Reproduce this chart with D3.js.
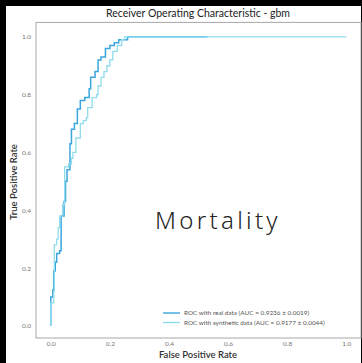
<!DOCTYPE html>
<html><head><meta charset="utf-8">
<script src="https://cdn.jsdelivr.net/npm/d3@7"></script>
<style>html,body{margin:0;padding:0;background:#000;}svg{display:block;}</style>
</head><body>
<svg id="c" width="362" height="363"></svg>
<script>
const title = "Receiver Operating Characteristic - gbm";
const xLabel = "False Positive Rate";
const yLabel = "True Positive Rate";
const overlayText = "Mortality";
const seriesNames = ["ROC with real data (AUC = 0.9236 ± 0.0019)", "ROC with synthetic data (AUC = 0.9177 ± 0.0044)"];
const ticks = [0, 0.2, 0.4, 0.6, 0.8, 1.0];
const tickLabels = ["0.0", "0.2", "0.4", "0.6", "0.8", "1.0"];
const realFpr = [0,0,0.007,0.01,0.015,0.02,0.03,0.035,0.045,0.05,0.055,0.065,0.07,0.08,0.09,0.1,0.115,0.13,0.135,0.15,0.16,0.17,0.185,0.2,0.215,0.23,0.26,0.53];
const realTpr = [0,0.1,0.125,0.19,0.22,0.25,0.26,0.38,0.43,0.5,0.54,0.63,0.68,0.7,0.75,0.78,0.79,0.82,0.86,0.88,0.92,0.93,0.96,0.97,0.98,0.99,1.0,1.0];
const synFpr = [0,0,0.01,0.012,0.02,0.025,0.03,0.04,0.047,0.06,0.07,0.075,0.085,0.1,0.11,0.12,0.125,0.14,0.155,0.16,0.17,0.18,0.19,0.2,0.21,0.225,0.24,0.25,1.0];
const synTpr = [0,0.08,0.12,0.28,0.3,0.34,0.38,0.42,0.55,0.56,0.58,0.6,0.65,0.7,0.71,0.72,0.755,0.79,0.8,0.83,0.86,0.88,0.9,0.92,0.95,0.97,0.99,1.0,1.0];
const colors = ["#3aa6dd", "#8fdcec"];

const svg = d3.select("#c");
svg.append("rect").attr("x",6).attr("y",6).attr("width",355).attr("height",357).attr("fill","#fff");

const x = d3.scaleLinear().domain([-0.05,1.05]).range([36,361]);
const y = d3.scaleLinear().domain([-0.042,1.05]).range([338,22.4]);

svg.append("rect").attr("x",x(-0.05)).attr("y",y(1.05)).attr("width",x(1.05)-x(-0.05)).attr("height",y(-0.042)-y(1.05))
  .attr("fill","none").attr("stroke","#a8a8a8").attr("stroke-width",1);

const fontF = "Lato, 'Open Sans', sans-serif";
const xAxis = d3.axisBottom(x).tickValues(ticks).tickFormat((d,i)=>tickLabels[i]).tickSize(0).tickPadding(3);
const gx = svg.append("g").attr("transform",`translate(0,${y(-0.042)})`).call(xAxis);
const yAxis = d3.axisLeft(y).tickValues(ticks).tickFormat((d,i)=>tickLabels[i]).tickSize(0).tickPadding(5);
const gy = svg.append("g").attr("transform",`translate(${x(-0.05)},0)`).call(yAxis);
[gx,gy].forEach(g=>{
  g.select(".domain").remove();
  g.selectAll("text").attr("font-family",fontF).attr("font-size",6.5).attr("fill","#777");
});

const line = d3.line().x(d=>x(d[0])).y(d=>y(d[1])).curve(d3.curveStepAfter);
const realPts = realFpr.map((f,i)=>[f,realTpr[i]]);
const synPts = synFpr.map((f,i)=>[f,synTpr[i]]);
svg.append("path").datum(realPts).attr("d",line).attr("fill","none").attr("stroke",colors[0]).attr("stroke-width",1.5);
svg.append("path").datum(synPts).attr("d",line).attr("fill","none").attr("stroke",colors[1]).attr("stroke-width",1.3);

seriesNames.forEach((n,i)=>{
  const ly = 313 + i*9.5;
  svg.append("line").attr("x1",163).attr("x2",180).attr("y1",ly).attr("y2",ly).attr("stroke",colors[i]).attr("stroke-width",1.4);
  svg.append("text").attr("x",184).attr("y",ly).attr("dy","0.35em").attr("font-family",fontF).attr("font-size",6.4).attr("fill","#555").text(n);
});

svg.append("text").attr("x",198).attr("y",17).attr("text-anchor","middle").attr("font-family",fontF).attr("font-size",10.5).attr("fill","#222").text(title);
svg.append("text").attr("x",198).attr("y",358).attr("text-anchor","middle").attr("font-family",fontF).attr("font-size",9.5).attr("font-weight",600).attr("fill","#333").text(xLabel);
svg.append("text").attr("transform","translate(17,182) rotate(-90)").attr("text-anchor","middle").attr("font-family",fontF).attr("font-size",9.5).attr("font-weight",600).attr("fill","#333").text(yLabel);

svg.append("text").attr("x",218).attr("y",229).attr("text-anchor","middle").attr("font-family","'Noto Sans', sans-serif").attr("font-weight",300).attr("font-size",24).attr("letter-spacing",3.3).attr("fill","#222").text(overlayText);
</script>
</body></html>
